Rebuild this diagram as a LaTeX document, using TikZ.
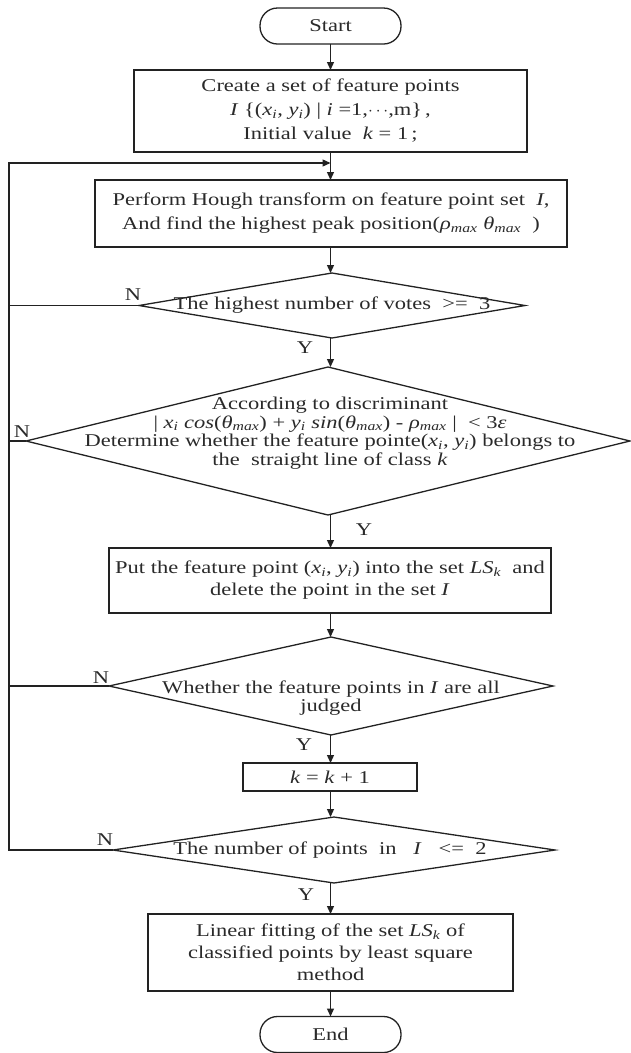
\documentclass[tikz,border=0pt]{standalone}
\usepackage{fontspec}
\setmainfont{Liberation Serif}[FakeStretch=1.25]
\usetikzlibrary{shapes.geometric,arrows.meta}
\definecolor{ink}{HTML}{222222}
\definecolor{txtc}{HTML}{2A2A2A}
\newcommand{\sub}[1]{\textsubscript{#1}}
\begin{document}
\begin{tikzpicture}[x=1pt,y=-1pt,
  line width=1.3pt, draw=ink,
  every node/.style={text=txtc},
  box/.style={draw=ink, rectangle, inner sep=0pt, outer sep=0pt, align=center,
    font=\fontsize{18}{24}\selectfont},
  term/.style={draw=ink, rectangle, rounded corners=17.5pt, inner sep=0pt, outer sep=0pt,
    minimum width=141pt, minimum height=36pt, font=\fontsize{18}{22}\selectfont},
  dia/.style={draw=ink, diamond, inner sep=0pt, outer sep=0pt},
  txt/.style={align=center, inner sep=0pt, font=\fontsize{18}{24}\selectfont},
  tighttxt/.style={align=center, inner sep=0pt, font=\fontsize{18}{18.5}\selectfont},
  lab/.style={inner sep=0pt, font=\fontsize{18}{20}\selectfont},
  arr/.style={draw=ink, -{Triangle[length=8pt,width=7pt]}},
  conn/.style={draw=ink}
]
\useasboundingbox (0,0) rectangle (631,1053);

% nodes
\node[term] (start) at (330.5,26) {Start};
\node[box, minimum width=393pt, minimum height=82pt] (b1) at (330.5,111) {};
\node[txt] (b1t) at (b1.center) {Create a set of feature points\\
  \textit{I} \{(\textit{x\sub{i}}, \textit{y\sub{i}}) | \textit{i} =1,$\cdots$,m\}\,,\\
  Initial value\ \ \textit{k} = 1\,;};
\node[box, minimum width=472pt, minimum height=67pt] (b2) at (331,213.5) {};
\node[txt] (b2t) at (b2.center) {Perform Hough transform on feature point set\ \ \textit{I},\\
  And find the highest peak position(\textit{ρ\sub{max} θ\sub{max}}\ \ )};
\node[dia, minimum width=386pt, minimum height=65pt] (d1) at (332,305.5) {};
\node[txt] (d1t) at (d1.center) {The highest number of votes\ \ >=\ \ 3};
\node[dia, minimum width=604pt, minimum height=148pt] (d2) at (328,441) {};
\node[tighttxt] (d2t) at (330,433) {According to discriminant\\
  | \textit{x\sub{i} cos}(\textit{θ\sub{max}}) + \textit{y\sub{i} sin}(\textit{θ\sub{max}}) - \textit{ρ\sub{max}} |\ \ < 3\textit{ε}\\
  Determine whether the feature pointe(\textit{x\sub{i}}, \textit{y\sub{i}}) belongs to\\
  the\ \ straight line of class \textit{k}};
\node[box, minimum width=442pt, minimum height=65pt] (b3) at (330,580.5) {};
\node[txt, font=\fontsize{18}{22}\selectfont] (b3t) at (b3.center) {Put the feature point (\textit{x\sub{i}}, \textit{y\sub{i}}) into the set \textit{LS\sub{k}}\ \ and\\
  delete the point in the set \textit{I}};
\node[dia, minimum width=444pt, minimum height=98pt] (d3) at (331,686) {};
\node[tighttxt] (d3t) at (331,698) {Whether the feature points in \textit{I} are all\\ judged};
\node[box, minimum width=174pt, minimum height=28pt] (b4) at (330,777) {\textit{k} = \textit{k} + 1};
\node[dia, minimum width=442pt, minimum height=66pt] (d4) at (334,850) {};
\node[txt] (d4t) at (330,850) {The number of points\ \ in\ \ \ \textit{I}\ \ \ <=\ \ 2};
\node[box, minimum width=365pt, minimum height=77pt] (b5) at (330.5,952.5) {};
\node[txt, font=\fontsize{18}{22}\selectfont] (b5t) at (b5.center) {Linear fitting of the set \textit{LS\sub{k}} of\\
  classified points by least square\\ method};
\node[term] (end) at (330.5,1034.5) {End};

% labels
\node[lab] (n1) at (133,295) {N};
\node[lab] (y1) at (305,348) {Y};
\node[lab] (n2) at (22,432) {N};
\node[lab] (y2) at (364,530) {Y};
\node[lab] (n3) at (101,678) {N};
\node[lab] (y3) at (304,745) {Y};
\node[lab] (n4) at (105,840) {N};
\node[lab] (y4) at (306,895) {Y};

% helper coordinates
\coordinate (j) at (330.5,163);
\coordinate (lx) at (9,163);

% main flow
\draw[arr] (start.south) -- (b1.north -| start.south);
\draw[arr] (b1.south) -- (b2.north -| b1.south);
\draw[arr] (b2.south -| b1.south) -- (d1.north -| b1.south);
\draw[arr] (d1.south -| b1.south) -- (d2.north -| b1.south);
\draw[arr] (d2.south -| b1.south) -- (b3.north -| b1.south);
\draw[arr] (b3.south -| b1.south) -- (d3.north -| b1.south);
\draw[arr] (d3.south -| b1.south) -- (b4.north -| b1.south);
\draw[arr] (b4.south -| b1.south) -- (d4.north -| b1.south);
\draw[arr] (d4.south -| b1.south) -- (b5.north -| b1.south);
\draw[arr] (b5.south -| b1.south) -- (end.north -| b1.south);

% loop back
\draw[arr] (d4.west) -| (lx) -- (j);
\draw[conn] (d1.west) -- (d1.west -| lx);
\draw[conn] (d2.west) -- (d2.west -| lx);
\draw[conn] (d3.west) -- (d3.west -| lx);
\end{tikzpicture}
\end{document}
